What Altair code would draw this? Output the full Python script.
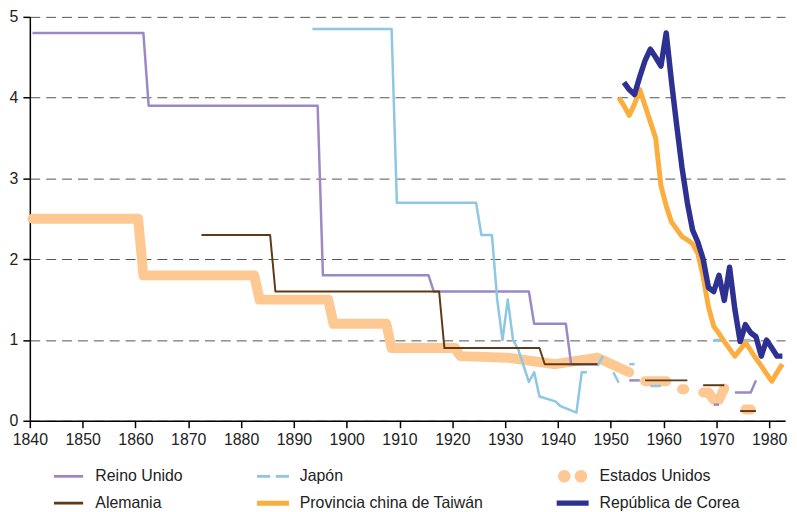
import altair as alt
import pandas as pd

series_names = ["Reino Unido", "Japón", "Estados Unidos", "Alemania",
                "Provincia china de Taiwán", "República de Corea"]
series_colors = ["#9D88C6", "#8DC7E3", "#FEC893", "#5E3A17", "#FBAE3E", "#2E3192"]
series_widths = [2.5, 2.5, 10, 2, 5, 5.5]

# None marks a break in a series
uk_years = [1840, 1861, 1862, 1894, 1895, 1915, 1916, 1934, 1935, 1941, 1942, 1947,
            None, 1953, 1955, None, 1969, 1970, None, 1973, 1976, 1977]
uk_values = [4.8, 4.8, 3.9, 3.9, 1.8, 1.8, 1.6, 1.6, 1.2, 1.2, 0.7, 0.7,
             None, 0.5, 0.5, None, 0.2, 0.2, None, 0.35, 0.35, 0.5]

jp_years = [1893, 1908, 1909, 1924, 1925, 1927, 1928, 1929, 1930, 1931, 1932, 1934,
            1935, 1936, 1939, 1940, 1943, 1944, 1945, None, 1947, 1948, None,
            1950, 1951, None, 1953, 1954, None, 1957, 1959, None, 1969, 1971,
            None, 1974, 1976]
jp_values = [4.85, 4.85, 2.7, 2.7, 2.3, 2.3, 1.5, 1.0, 1.5, 1.0, 0.88, 0.48,
             0.6, 0.3, 0.24, 0.18, 0.1, 0.6, 0.6, None, 0.68, 0.8, None,
             0.6, 0.47, None, 0.7, 0.7, None, 0.43, 0.43, None, 1.0, 1.0,
             None, 1.0, 1.0]

us_years = [1840, 1860, 1861, 1882, 1883, 1896, 1897, 1907, 1908, 1920, 1921, 1930,
            1939, 1947, 1953, None, 1956, 1960, None, 1963, 1963.4, None,
            1967, 1968, 1969, 1970, 1971, None, 1975, 1976]
us_values = [2.5, 2.5, 1.8, 1.8, 1.5, 1.5, 1.2, 1.2, 0.9, 0.9, 0.8, 0.78,
             0.7, 0.78, 0.6, None, 0.49, 0.49, None, 0.39, 0.39, None,
             0.35, 0.35, 0.26, 0.26, 0.4, None, 0.14, 0.14]

de_years = [1872, 1885, 1886, 1917, 1918, 1936, 1937, 1947, None, 1956, 1964,
            None, 1967, 1971, None, 1974, 1977]
de_values = [2.3, 2.3, 1.6, 1.6, 0.9, 0.9, 0.7, 0.7, None, 0.5, 0.5,
             None, 0.44, 0.44, None, 0.12, 0.12]

tw_years = list(range(1951, 1983))
tw_values = [4.0, 3.9, 3.78, 3.92, 4.1, 3.9, 3.7, 3.5, 2.91, 2.66, 2.46, 2.37,
             2.28, 2.24, 2.19, 2.07, 1.78, 1.41, 1.17, 1.08, 0.98, 0.89, 0.8,
             0.88, 0.97, 0.87, 0.77, 0.68, 0.58, 0.49, 0.6, 0.7]

kr_years = list(range(1952, 1983))
kr_values = [4.19, 4.1, 4.04, 4.26, 4.46, 4.6, 4.5, 4.39, 4.8, 4.2, 3.65, 3.13,
             2.7, 2.36, 2.21, 2.0, 1.65, 1.6, 1.8, 1.49, 1.9, 1.38, 0.98, 1.19,
             1.09, 1.04, 0.8, 1.0, 0.9, 0.8, 0.8]

x_ticks = list(range(1840, 1981, 10))
y_ticks = [0, 1, 2, 3, 4, 5]

# legend key glyphs (unit-square SVG paths)
legend_shapes = [
    "M-1.05,-0.1H1.05V0.1H-1.05Z",
    "M-1.15,-0.1H-0.2V0.1H-1.15Z M0.2,-0.1H1.15V0.1H0.2Z",
    "M-1.05,0A0.45,0.45 0 1,0 -0.15,0A0.45,0.45 0 1,0 -1.05,0Z M0.15,0A0.45,0.45 0 1,0 1.05,0A0.45,0.45 0 1,0 0.15,0Z",
    "M-1.05,-0.1H1.05V0.1H-1.05Z",
    "M-1.15,-0.18H1.15V0.18H-1.15Z",
    "M-1.15,-0.19H1.15V0.19H-1.15Z",
]


def build(name, years, values):
    rows, seg = [], 0
    for yr, v in zip(years, values):
        if yr is None or v is None:
            seg += 1
            continue
        rows.append({"serie": name, "year": yr, "value": v, "seg": f"{name}-{seg}"})
    return rows


rows = []
for name, ys, vs in [("Reino Unido", uk_years, uk_values),
                     ("Japón", jp_years, jp_values),
                     ("Alemania", de_years, de_values),
                     ("Provincia china de Taiwán", tw_years, tw_values),
                     ("República de Corea", kr_years, kr_values),
                     ("Estados Unidos", us_years, us_values)]:
    rows += build(name, ys, vs)
df = pd.DataFrame(rows)
legend_df = pd.DataFrame({"serie": series_names})

FONT = "Liberation Sans"

legend = alt.Legend(
    title=None, orient="none", legendX=25, legendY=449, direction="horizontal",
    columns=3, symbolSize=784, labelFontSize=16, labelFont=FONT,
    labelColor="#222222", columnPadding=73, rowPadding=5, labelOffset=13,
    padding=0, symbolStrokeWidth=0, symbolOpacity=1, labelLimit=400,
)

x_enc = alt.X("xpos:Q", scale=alt.Scale(domain=[1840, 1983], nice=False, zero=False),
              axis=alt.Axis(values=x_ticks, format="d", title=None, grid=False,
                            domainColor="#000000", tickColor="#000000", domainWidth=1.5,
                            tickWidth=1.5, tickSize=7, labelFontSize=16, labelFont=FONT,
                            labelColor="#222222", labelPadding=4, labelFlush=False))
y_enc = alt.Y("value:Q", scale=alt.Scale(domain=[0, 5], nice=False),
              axis=alt.Axis(values=y_ticks, title=None, grid=True, gridDash=[10, 6],
                            gridColor="#555555", gridWidth=1, domainColor="#000000",
                            tickColor="#000000", domainWidth=1.5, tickWidth=1.5,
                            tickSize=7, labelFontSize=16, labelFont=FONT,
                            labelColor="#222222", labelPadding=5))

base = alt.Chart(df).transform_calculate(xpos="datum.year + 0.5")

draw_order = ["Estados Unidos", "Reino Unido", "Japón", "Alemania",
              "Provincia china de Taiwán", "República de Corea"]
layers = []
for name in draw_order:
    i = series_names.index(name)
    cap = "round" if name == "Estados Unidos" else "butt"
    layers.append(
        base.transform_filter(alt.datum.serie == name)
        .mark_line(strokeWidth=series_widths[i], color=series_colors[i],
                   strokeCap=cap, strokeJoin="round")
        .encode(x=x_enc, y=y_enc, detail="seg:N")
    )

# invisible layer that only carries the legend
legend_layer = alt.Chart(legend_df).mark_point(filled=True, opacity=0, size=1).encode(
    color=alt.Color("serie:N", scale=alt.Scale(domain=series_names, range=series_colors),
                    legend=legend, sort=series_names),
    shape=alt.Shape("serie:N", scale=alt.Scale(domain=series_names, range=legend_shapes),
                    legend=legend, sort=series_names),
)

chart = alt.layer(*layers, legend_layer).properties(
    width=761, height=407,
    autosize=alt.AutoSizeParams(type="none"),
    padding={"left": 22, "top": 7, "right": 4, "bottom": 90},
).configure_view(stroke=None)

chart.save("out.html", embed_options={"renderer": "svg", "actions": False})
